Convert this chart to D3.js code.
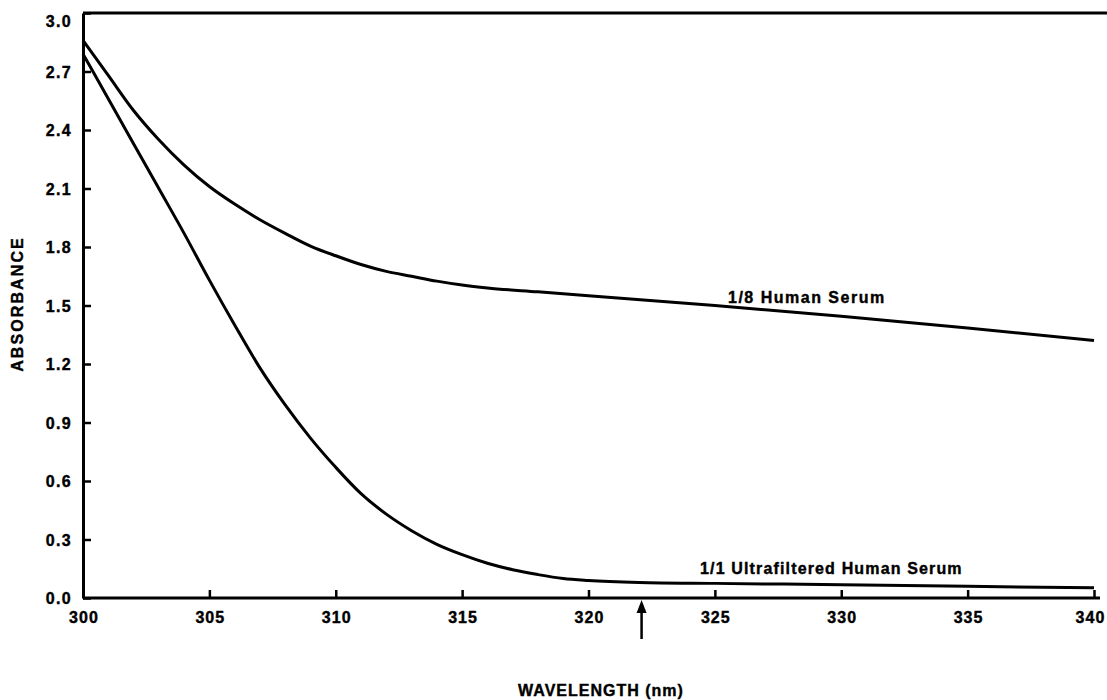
<!DOCTYPE html>
<html>
<head>
<meta charset="utf-8">
<script src="https://cdn.jsdelivr.net/npm/d3@7/dist/d3.min.js"></script>
<style>
  html, body { margin: 0; padding: 0; background: #fff; }
  svg { display: block; }
  text { font-family: "Liberation Sans", Arial, Helvetica, sans-serif; font-weight: bold; fill: #000; stroke: #000; stroke-width: 0.4px; }
</style>
</head>
<body>
<svg id="chart" width="1107" height="700"></svg>
<script>
// ---- data ----
const xTicks = [300, 305, 310, 315, 320, 325, 330, 335, 340];
const yTicks = [0.0, 0.3, 0.6, 0.9, 1.2, 1.5, 1.8, 2.1, 2.4, 2.7, 3.0];

const serumWavelength = [300, 301, 302, 303, 304, 305, 306, 307, 308, 309, 310, 311, 312, 313, 314, 315, 316, 318, 320, 325, 330, 335, 340];
const serumAbsorbance = [2.86, 2.68, 2.50, 2.35, 2.22, 2.11, 2.02, 1.94, 1.87, 1.805, 1.755, 1.71, 1.675, 1.65, 1.625, 1.605, 1.59, 1.57, 1.55, 1.50, 1.445, 1.385, 1.32];

const ultraWavelength = [300, 301, 302, 303, 304, 305, 306, 307, 308, 309, 310, 311, 312, 313, 314, 315, 316, 317, 318, 319, 320, 322, 325, 330, 335, 340];
const ultraAbsorbance = [2.79, 2.56, 2.33, 2.10, 1.87, 1.63, 1.40, 1.18, 0.99, 0.82, 0.67, 0.535, 0.43, 0.345, 0.275, 0.222, 0.178, 0.145, 0.12, 0.10, 0.09, 0.08, 0.075, 0.068, 0.06, 0.052];

const seriesLabels = ["1/8 Human Serum", "1/1 Ultrafiltered Human Serum"];
const arrowWavelength = 322.1;

// ---- layout ----
const svg = d3.select("#chart");
const x = d3.scaleLinear().domain([300, 340]).range([83, 1094]);
const y = d3.scaleLinear().domain([0, 3]).range([598, 13]);

const fmt = d3.format(".1f");
const FONT = '"Liberation Sans", Arial, Helvetica, sans-serif';

// top frame line
svg.append("line")
  .attr("x1", x(300)).attr("x2", 1107)
  .attr("y1", y(3)).attr("y2", y(3))
  .attr("stroke", "#000").attr("stroke-width", 3);

// x axis
const xAxis = svg.append("g")
  .attr("transform", `translate(0,${y(0)})`)
  .call(d3.axisBottom(x).tickValues(xTicks).tickSizeInner(-8).tickSizeOuter(0).tickPadding(14).tickFormat(d3.format("d")));
xAxis.attr("font-size", null).attr("font-family", null);
xAxis.select(".domain").attr("stroke-width", 3).attr("d", `M${x(300)},0H1100`);
xAxis.selectAll(".tick line").attr("stroke-width", 2.5);
xAxis.selectAll(".tick text")
  .style("font-size", "16px").style("font-family", FONT).style("font-weight", "bold")
  .style("letter-spacing", "1.1px").attr("fill", "#000").attr("stroke", "#000").attr("stroke-width", 0.4)
  .attr("dx", d => d === 340 ? "-4px" : "0.5px");

// y axis
const yAxis = svg.append("g")
  .attr("transform", `translate(${x(300)},0)`)
  .call(d3.axisLeft(y).tickValues(yTicks).tickSizeInner(-8).tickSizeOuter(0).tickPadding(11).tickFormat(fmt));
yAxis.attr("font-size", null).attr("font-family", null);
yAxis.select(".domain").attr("stroke-width", 3);
yAxis.selectAll(".tick line").attr("stroke-width", 2.5);
yAxis.selectAll(".tick text")
  .style("font-size", "16px").style("font-family", FONT).style("font-weight", "bold")
  .style("letter-spacing", "1.3px").attr("fill", "#000").attr("stroke", "#000").attr("stroke-width", 0.4)
  .attr("dy", d => d === 3 ? "0.85em" : "0.35em");

// curves
const line = d3.line().x(d => x(d[0])).y(d => y(d[1])).curve(d3.curveMonotoneX);
const serum = serumWavelength.map((w, i) => [w, serumAbsorbance[i]]);
const ultra = ultraWavelength.map((w, i) => [w, ultraAbsorbance[i]]);

svg.append("path").datum(serum).attr("d", line)
  .attr("fill", "none").attr("stroke", "#000").attr("stroke-width", 3).attr("stroke-linejoin", "round");
svg.append("path").datum(ultra).attr("d", line)
  .attr("fill", "none").attr("stroke", "#000").attr("stroke-width", 3).attr("stroke-linejoin", "round");

// series labels
svg.append("text").attr("x", 728).attr("y", 303)
  .style("font-size", "16px").style("letter-spacing", "1.5px").text(seriesLabels[0]);
svg.append("text").attr("x", 700).attr("y", 574)
  .style("font-size", "16px").style("letter-spacing", "1.15px").text(seriesLabels[1]);

// arrow
const ax = x(arrowWavelength);
svg.append("line").attr("x1", ax).attr("x2", ax).attr("y1", 639).attr("y2", 608)
  .attr("stroke", "#000").attr("stroke-width", 2.5);
svg.append("path").attr("d", `M${ax},600L${ax - 5},613L${ax + 5},613Z`).attr("fill", "#000");

// axis titles
svg.append("text").attr("x", 601).attr("y", 696).attr("text-anchor", "middle")
  .style("font-size", "16px").style("letter-spacing", "1px").text("WAVELENGTH (nm)");
svg.append("text").attr("transform", `translate(23,304) rotate(-90)`).attr("text-anchor", "middle")
  .style("font-size", "16px").style("letter-spacing", "2.1px").text("ABSORBANCE");
</script>
</body>
</html>
